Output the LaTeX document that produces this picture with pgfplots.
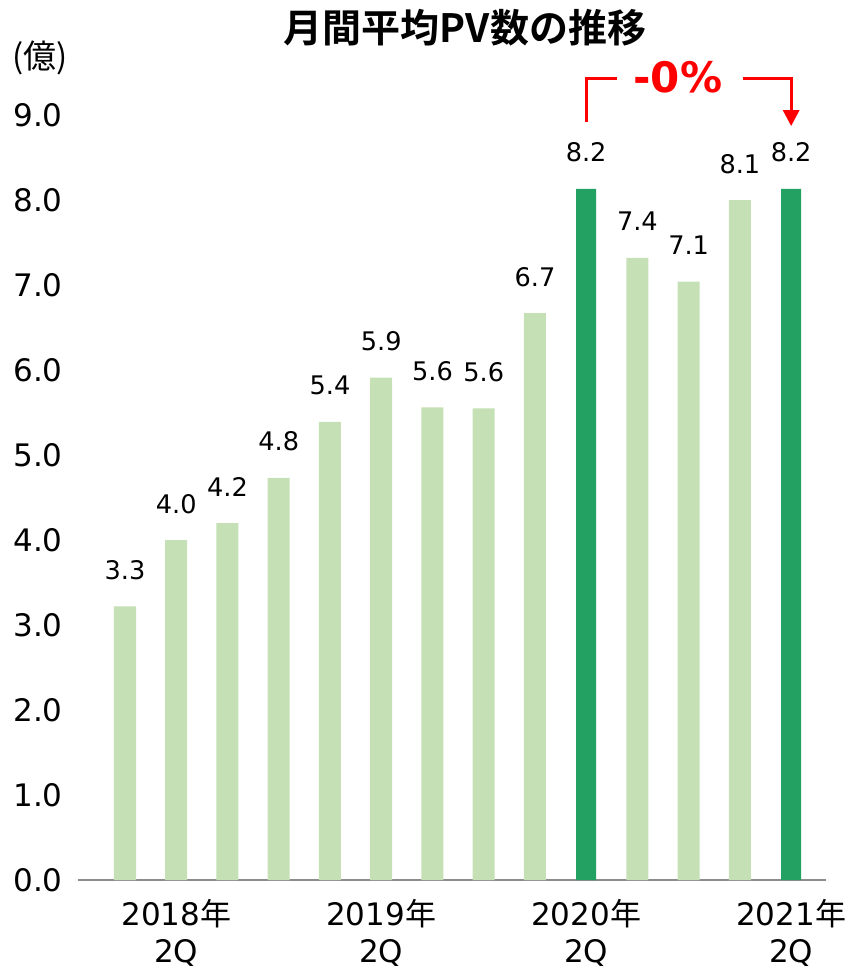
\documentclass[border=0pt]{standalone}
\usepackage{pgfplots}
\pgfplotsset{compat=1.18}
\usetikzlibrary{arrows.meta}
\usepackage{fontspec}
\setmainfont{DejaVu Sans}
\newfontfamily\cjk{Noto Sans CJK JP}[BoldFont={Noto Sans CJK JP Bold}]
\definecolor{lightbar}{HTML}{C5E0B4}
\definecolor{darkbar}{HTML}{22A163}
\definecolor{annot}{HTML}{FF0000}
\begin{document}
\begin{tikzpicture}
\useasboundingbox (-39pt,-45.5pt) rectangle (386pt,440pt);
\begin{axis}[
  at={(0,0)}, anchor=south west,
  scale only axis,
  width=374pt, height=382.5pt,
  ybar,
  xmin=-0.917, xmax=13.68,
  ymin=0, ymax=9,
  axis x line*=bottom,
  axis y line*=left,
  x axis line style={draw=gray!90, line width=1pt, -},
  y axis line style={draw=none},
  ytick={0,1,...,9},
  yticklabel style={anchor=east, inner sep=0pt, xshift=-7.5pt, font=\fontsize{15.5}{17}\selectfont},
  xtick={1,5,9,13},
  xticklabels={{2018{\cjk 年}\\2Q},{2019{\cjk 年}\\2Q},{2020{\cjk 年}\\2Q},{2021{\cjk 年}\\2Q}},
  xticklabel style={align=center, font=\fontsize{15.5}{18.5}\selectfont, yshift=-6pt},
  major tick length=0pt,
  clip=false,
  /pgf/number format/assume math mode=true,
  /pgf/number format/.cd, fixed, fixed zerofill, precision=1,
  /pgfplots/.cd,
  bar width=0.43,
  point meta=explicit symbolic,
  nodes near coords,
  nodes near coords style={anchor=base, yshift=13.5pt, font=\fontsize{12.8}{14}\selectfont, text=black},
]
\addplot[draw=none, fill=lightbar, bar shift=0pt] coordinates {
  (0,3.22) [3.3] (1,4.00) [4.0] (2,4.20) [4.2] (3,4.73) [4.8]
  (4,5.39) [5.4] (5,5.91) [5.9] (6,5.56) [5.6] (7,5.55) [5.6]
  (8,6.67) [6.7] (10,7.32) [7.4] (11,7.04) [7.1] (12,8.00) [8.1]
};
\addplot[draw=none, fill=darkbar, bar shift=0pt, bar width=0.39] coordinates {
  (9,8.13) [8.2] (13,8.13) [8.2]
};
\draw[annot, line width=1.6pt] (axis cs:9,8.92) -- (axis cs:9,9.43) -- (axis cs:9.6,9.43);
\draw[annot, line width=1.6pt, -{Triangle[length=8pt,width=8pt]}] (axis cs:12.06,9.43) -- (axis cs:13,9.43) -- (axis cs:13,8.87);
\node[annot, font=\bfseries\fontsize{21}{24}\selectfont] at (axis cs:10.79,9.45) {-0\%};
\end{axis}
\node[font=\cjk\bfseries\fontsize{19.5}{22}\selectfont] at (193.5pt,426pt) {月間平均PV数の推移};
\node[inner sep=0pt, font=\cjk\fontsize{16.5}{18}\selectfont] at (-19pt,411pt) {(億)};
\end{tikzpicture}
\end{document}
